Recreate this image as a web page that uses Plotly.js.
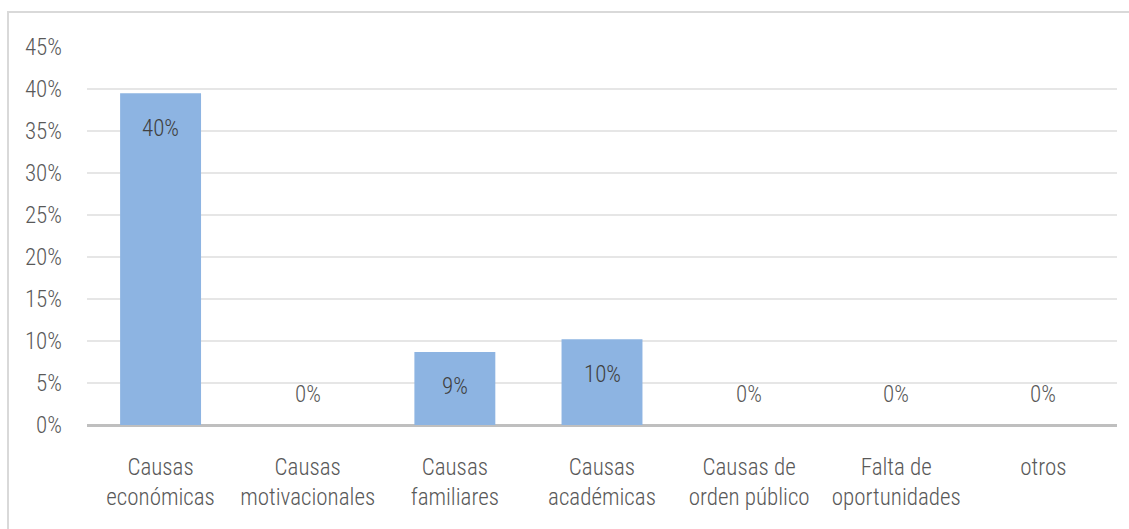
<!DOCTYPE html>
<html>
<head>
<meta charset="utf-8">
<script src="https://cdn.plot.ly/plotly-3.0.1.min.js"></script>
<style>
  html, body { margin: 0; padding: 0; background: #fff; }
  #wrap { position: relative; width: 1129px; height: 529px; overflow: hidden; }
  #chart { position: absolute; left: 0; top: 0; width: 1129px; height: 529px; }
  #frame { position: absolute; left: 7px; top: 11px; width: 1130px; height: 530px;
           border-left: 2px solid #d9d9d9; border-top: 2px solid #d9d9d9; pointer-events: none; }
</style>
</head>
<body>
<div id="wrap">
  <div id="chart"></div>
  <div id="frame"></div>
</div>
<script>
const categories = [
  "Causas<br>económicas",
  "Causas<br>motivacionales",
  "Causas<br>familiares",
  "Causas<br>académicas",
  "Causas de<br>orden público",
  "Falta de<br>oportunidades",
  "otros"
];
const values = [39.5, 0, 8.7, 10.2, 0, 0, 0];
const valueLabels = ["40%", "0%", "9%", "10%", "0%", "0%", "0%"];
const yTicks = [0, 5, 10, 15, 20, 25, 30, 35, 40, 45];
const yTickLabels = ["0%", "5%", "10%", "15%", "20%", "25%", "30%", "35%", "40%", "45%"];

const FONT = "'Roboto Condensed', 'Liberation Sans Narrow', sans-serif";
const GRAY = "#595959";
const SIZE = 23;
const WEIGHT = 300;

const trace = {
  type: "bar",
  x: categories,
  y: values,
  marker: { color: "#8db4e2", line: { width: 0 } },
  hoverinfo: "skip"
};

const annotations = values.map((v, i) => ({
  x: categories[i],
  y: v,
  xref: "x",
  yref: "y",
  text: valueLabels[i],
  showarrow: false,
  yshift: v > 0 ? -35 : 31,
  font: { family: FONT, size: SIZE, weight: WEIGHT, color: v > 0 ? "#404040" : GRAY }
}));

const layout = {
  width: 1129,
  height: 529,
  margin: { l: 87, r: 12, t: 47, b: 104 },
  paper_bgcolor: "rgba(0,0,0,0)",
  plot_bgcolor: "#ffffff",
  showlegend: false,
  bargap: 0.45,
  font: { family: FONT, size: SIZE, weight: WEIGHT, color: GRAY },
  xaxis: {
    type: "category",
    showgrid: false,
    showline: false,
    zeroline: false,
    ticks: "",
    ticklabelstandoff: 26,
    tickfont: { family: FONT, size: SIZE, weight: WEIGHT, color: GRAY },
    fixedrange: true
  },
  yaxis: {
    range: [0, 45],
    tickvals: yTicks,
    ticktext: yTickLabels,
    showgrid: true,
    gridcolor: "#e6e6e6",
    gridwidth: 2,
    zeroline: true,
    zerolinecolor: "#bfbfbf",
    zerolinewidth: 3,
    showline: false,
    ticks: "",
    ticklabelstandoff: 24,
    tickfont: { family: FONT, size: SIZE, weight: WEIGHT, color: GRAY },
    fixedrange: true
  },
  annotations: annotations
};

Plotly.newPlot("chart", [trace], layout, { displayModeBar: false, staticPlot: true });
</script>
</body>
</html>
